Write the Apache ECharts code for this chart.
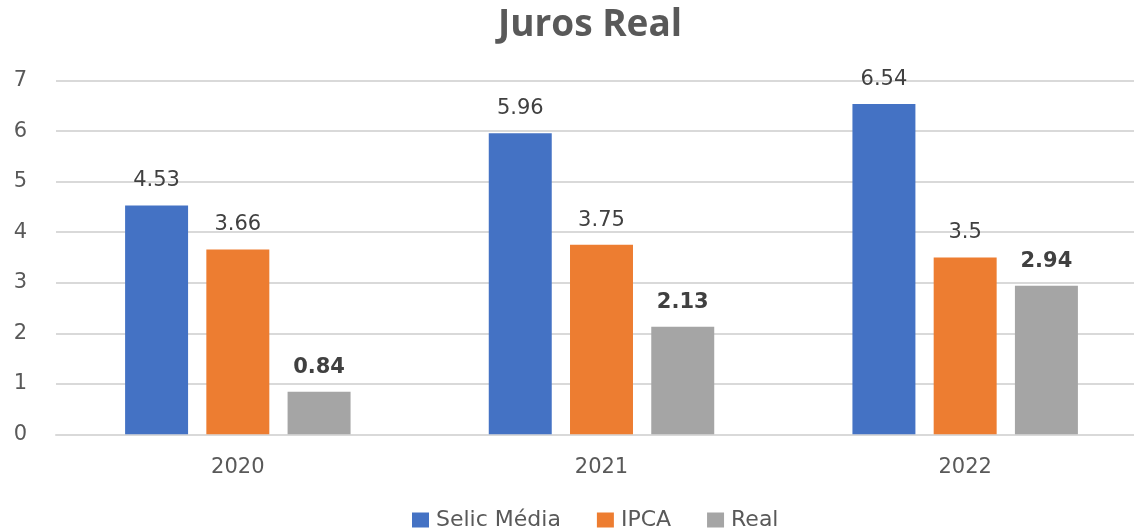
<!DOCTYPE html>
<html>
<head>
<meta charset="utf-8">
<script src="https://cdn.jsdelivr.net/npm/echarts@6/dist/echarts.min.js"></script>
<style>
  html, body { margin: 0; padding: 0; background: #fff; overflow: hidden; }
  /* plot area runs past the right edge in the original, so the canvas is a bit wider than the window */
  #chart { width: 1147px; height: 528px; }
</style>
</head>
<body>
<div id="chart"></div>
<script>
const years = ['2020', '2021', '2022'];
const selic = [4.53, 5.96, 6.54];
const ipca = [3.66, 3.75, 3.5];
const real = [0.84, 2.13, 2.94];
const yTicks = [0, 1, 2, 3, 4, 5, 6, 7];

const font = 'DejaVu Sans, Verdana, sans-serif';

function barLabel(bold) {
  return {
    show: true,
    position: 'top',
    distance: 14,
    color: '#404040',
    fontFamily: font,
    fontSize: 21,
    fontWeight: bold ? 'bold' : 'normal'
  };
}

const chart = echarts.init(document.getElementById('chart'));
chart.setOption({
  animation: false,
  title: {
    text: 'Juros Real',
    left: 585,
    textAlign: 'center',
    top: 2,
    textStyle: { fontFamily: 'Open Sans, sans-serif', fontWeight: 'bold', fontSize: 37, color: '#595959' }
  },
  legend: {
    top: 504,
    left: 407,
    itemWidth: 17,
    itemHeight: 15,
    itemGap: 36,
    icon: 'rect',
    textStyle: { fontFamily: font, fontSize: 22, color: '#595959', padding: [0, 0, 0, 2] },
    data: ['Selic Média', 'IPCA', 'Real']
  },
  grid: { left: 56, top: 80.7, right: 0, height: 353.6, containLabel: false },
  xAxis: {
    type: 'category',
    data: years,
    axisLine: { lineStyle: { color: '#d9d9d9', width: 2 } },
    axisTick: { show: false },
    axisLabel: { fontFamily: font, fontSize: 21, color: '#595959', margin: 23 }
  },
  yAxis: {
    type: 'value',
    min: yTicks[0],
    max: yTicks[yTicks.length - 1],
    interval: 1,
    axisLine: { show: false },
    axisTick: { show: false },
    splitLine: { lineStyle: { color: '#d9d9d9', width: 2 } },
    axisLabel: { fontFamily: font, fontSize: 21, color: '#595959', margin: 29 }
  },
  series: [
    { name: 'Selic Média', type: 'bar', data: selic, itemStyle: { color: '#4472C4' },
      barGap: '29%', barCategoryGap: '38%', label: barLabel(false) },
    { name: 'IPCA', type: 'bar', data: ipca, itemStyle: { color: '#ED7D31' }, label: barLabel(false) },
    { name: 'Real', type: 'bar', data: real, itemStyle: { color: '#A5A5A5' }, label: barLabel(true) }
  ]
});
</script>
</body>
</html>
